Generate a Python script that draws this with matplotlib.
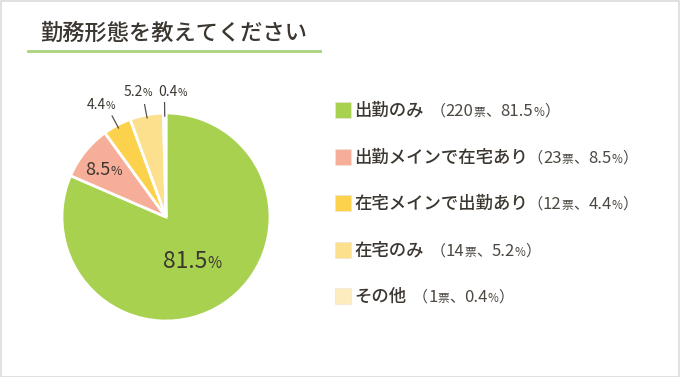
import numpy as np
import matplotlib
matplotlib.use("Agg")
import matplotlib.pyplot as plt
from matplotlib.patches import Rectangle
from matplotlib.lines import Line2D

W, H = 680, 377
FONT = ['Noto Sans CJK JP', 'DejaVu Sans']
plt.rcParams['font.family'] = FONT

title = "勤務形態を教えてください"
categories = ["出勤のみ", "出勤メインで在宅あり", "在宅メインで出勤あり", "在宅のみ", "その他"]
votes = [220, 23, 12, 14, 1]
shares = [81.5, 8.5, 4.4, 5.2, 0.4]
colors = ["#a8d14f", "#f7ae98", "#fcd24c", "#fde08e", "#fdecbd"]

TXT = "#3b3630"
SUB = "#4d4842"

fig = plt.figure(figsize=(W / 100, H / 100), dpi=100)
fig.patch.set_facecolor("white")
renderer = fig.canvas.get_renderer()

# light border round the picture
fig.patches.append(Rectangle((0.5 / W, 0.5 / H), 1 - 1.5 / W, 1 - 1.5 / H,
                             transform=fig.transFigure, fill=False,
                             edgecolor="#dcdcdc", lw=1.2))


def rich(parts, x, y, ha="left"):
    """parts: (text, size, color, weight); x, y display pixels (baseline)."""
    texts = [fig.text(0, 0, s, fontsize=sz, color=c, fontweight=wt,
                      va="baseline", ha="left", family=FONT)
             for s, sz, c, wt in parts]
    widths = [t.get_window_extent(renderer).width for t in texts]
    x0 = x - sum(widths) / 2 if ha == "center" else x
    for t, w in zip(texts, widths):
        t.set_position((x0 / W, y / H))
        x0 += w


# title + underline
rich([(title, 16, TXT, "medium")], 40, H - 40)
fig.lines.append(Line2D([28 / W, 320 / W], [1 - 51 / H, 1 - 51 / H],
                        transform=fig.transFigure, color="#a9d37a", lw=2))

# pie
cx, cy, r = 166, 217, 104
ax = fig.add_axes([(cx - r) / W, 1 - (cy + r) / H, 2 * r / W, 2 * r / H])
wedges, _ = ax.pie(shares, colors=colors, startangle=90, counterclock=False,
                   radius=1, wedgeprops=dict(edgecolor="white", linewidth=2))
ax.set_xlim(-1, 1)
ax.set_ylim(-1, 1)
ax.set_aspect("equal")
ax.axis("off")

# inner labels: (radius, number size, pct size)
inner = {0: (0.5, 16.5, 11), 1: (0.74, 13, 9)}
# outer labels: (text radius, x shift px)
outer = {2: (1.2, -6), 3: (1.2, -5), 4: (1.18, 8)}
for i, w in enumerate(wedges):
    ang = np.deg2rad((w.theta1 + w.theta2) / 2)
    c, s = np.cos(ang), np.sin(ang)
    num = f"{shares[i]:.1f}"
    if i in inner:
        rr, sz, psz = inner[i]
        px, py = ax.transData.transform((rr * c, rr * s))
        rich([(num, sz, TXT, "normal"), ("%", psz, TXT, "normal")],
             px - 2, py - sz * 0.45, ha="center")
    else:
        rr, dx = outer[i]
        ax.plot([0.97 * c, 1.1 * c], [0.97 * s, 1.1 * s], color="#555050",
                lw=0.9, clip_on=False)
        px, py = ax.transData.transform((rr * c, rr * s))
        rich([(num, 10, TXT, "normal"), ("%", 7.5, TXT, "normal")],
             px + dx, py - 2, ha="center")

# legend
row_y = [110, 157, 203, 250, 296]
for name, v, p, col, yy in zip(categories, votes, shares, colors, row_y):
    fig.patches.append(Rectangle((335 / W, 1 - (yy + 8) / H), 16 / W, 16 / H,
                                 transform=fig.transFigure, facecolor=col,
                                 edgecolor="#ece6d8", lw=0.5))
    base = H - yy - 6
    rich([(name, 12.5, TXT, "medium"),
          ("  （" if len(name) < 6 else "（", 11, SUB, "normal"),
          (str(v), 12, SUB, "normal"),
          ("票", 8.5, SUB, "normal"),
          ("、", 11, SUB, "normal"),
          (f"{p:.1f}", 12, SUB, "normal"),
          ("%", 8.5, SUB, "normal"),
          ("）", 11, SUB, "normal")], 354, base)

fig.savefig("out.png", dpi=100, facecolor="white")
